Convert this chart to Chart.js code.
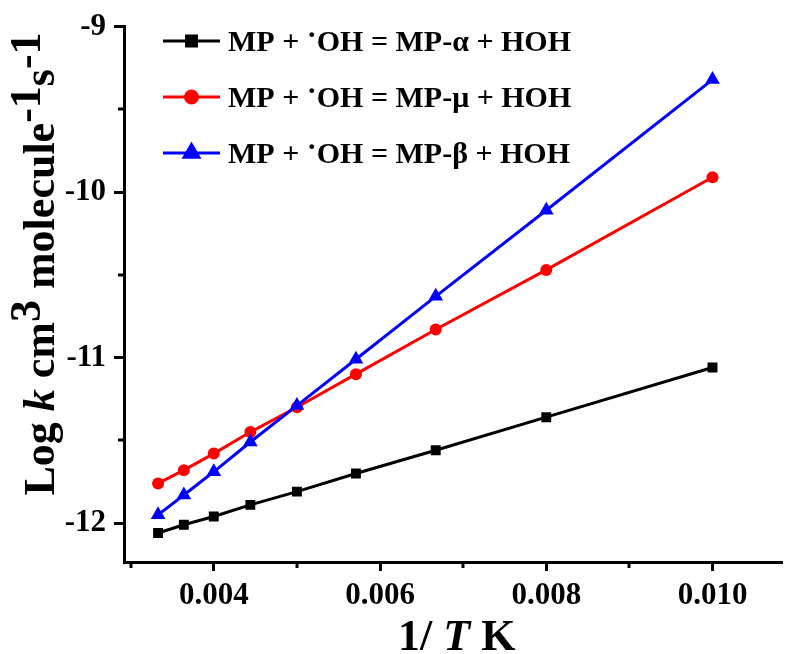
<!DOCTYPE html>
<html><head><meta charset="utf-8">
<script src="https://cdn.jsdelivr.net/npm/chart.js@4.4.1/dist/chart.umd.min.js"></script>
<style>html,body{margin:0;padding:0;background:#fff;}canvas{display:block;}</style>
</head><body>
<canvas id="c" width="790" height="654"></canvas>
<script>
// ---- data ----
const invT = [0.00333, 0.00364, 0.00400, 0.00444, 0.00500, 0.00571, 0.00667, 0.00800, 0.01000];
const logkAlpha = [-12.06, -12.01, -11.96, -11.89, -11.81, -11.70, -11.56, -11.36, -11.06];
const logkMu    = [-11.76, -11.68, -11.58, -11.45, -11.30, -11.10, -10.83, -10.47, -9.91];
const logkBeta  = [-11.95, -11.83, -11.69, -11.51, -11.29, -11.01, -10.63, -10.11, -9.32];
const seriesSites = ['α', 'μ', 'β'];
const xMajorTicks = [0.004, 0.006, 0.008, 0.010];
const xMinorTicks = [0.003, 0.005, 0.007, 0.009];
const yMajorTicks = [-12, -11, -10, -9];
const yMinorTicks = [-11.5, -10.5, -9.5];

const SERIF = '"Liberation Serif","Times New Roman",Times,serif';
const colors = ['#000000', '#ff0000', '#0000ff'];
const styles = ['rect', 'circle', 'triangle'];
const radii = [7, 6, 8.5];

function pts(ys) { return invT.map((x, i) => ({ x: x, y: ys[i] })); }

function drawRuns(ctx, x, y, parts) {
  for (const p of parts) {
    ctx.font = (p.i ? 'italic ' : '') + 'bold ' + p.s + 'px ' + SERIF;
    ctx.fillText(p.t, x, y - (p.dy || 0));
    x += ctx.measureText(p.t).width;
  }
  return x;
}
function runsWidth(ctx, parts) {
  let w = 0;
  for (const p of parts) {
    ctx.font = (p.i ? 'italic ' : '') + 'bold ' + p.s + 'px ' + SERIF;
    w += ctx.measureText(p.t).width;
  }
  return w;
}

const decor = {
  id: 'decor',
  afterDraw(chart) {
    const ctx = chart.ctx;
    const xs = chart.scales.x, ys = chart.scales.y;
    const ca = chart.chartArea;
    ctx.save();
    // minor ticks
    ctx.strokeStyle = '#000';
    ctx.lineWidth = 3;
    ctx.beginPath();
    for (const v of xMinorTicks) {
      const px = Math.round(xs.getPixelForValue(v));
      ctx.moveTo(px, ca.bottom); ctx.lineTo(px, ca.bottom + 6);
    }
    for (const v of yMinorTicks) {
      const py = Math.round(ys.getPixelForValue(v));
      ctx.moveTo(ca.left, py); ctx.lineTo(ca.left - 6, py);
    }
    ctx.stroke();

    // legend
    ctx.textBaseline = 'alphabetic';
    ctx.textAlign = 'left';
    chart.data.datasets.forEach((ds, k) => {
      const i = ds.legendIndex;
      const ly = 41 + i * 56;
      ctx.strokeStyle = ds.borderColor;
      ctx.lineWidth = 3;
      ctx.beginPath(); ctx.moveTo(163, ly); ctx.lineTo(220, ly); ctx.stroke();
      Chart.helpers.drawPoint(ctx, {
        pointStyle: ds.pointStyle, radius: ds.pointRadius, rotation: 0, borderWidth: 1
      }, 191.5, ly);
      ctx.fillStyle = ds.borderColor;
      ctx.fill();
      ctx.fillStyle = '#000';
      drawRuns(ctx, 228, ly + 10, [
        { t: 'MP + ', s: 30 },
        { t: '\u00B7', s: 30, dy: 7 },
        { t: 'OH = MP-' + seriesSites[i] + ' + HOH', s: 30 }
      ]);
    });

    // axis titles
    ctx.fillStyle = '#000';
    const xt = [
      { t: '1/ ', s: 44 }, { t: 'T', s: 44, i: true }, { t: ' K', s: 44 }
    ];
    const xw = runsWidth(ctx, xt);
    drawRuns(ctx, (ca.left + ca.right) / 2 - xw / 2 + 4, 650, xt);

    const yt = [
      { t: 'Log ', s: 44 }, { t: 'k', s: 44, i: true }, { t: ' cm', s: 44 },
      { t: '3', s: 44, dy: 14 }, { t: ' molecule', s: 44 }, { t: '-1', s: 44, dy: 14 },
      { t: 's', s: 44 }, { t: '-1', s: 44, dy: 14 }
    ];
    const yw = runsWidth(ctx, yt);
    ctx.translate(54, 264);
    ctx.rotate(-Math.PI / 2);
    drawRuns(ctx, -yw / 2, 0, yt);
    ctx.restore();
  }
};

const mkDs = (label, data, k) => ({
  label: label, data: pts(data), legendIndex: k,
  borderColor: colors[k], backgroundColor: colors[k],
  pointBackgroundColor: colors[k], pointBorderColor: colors[k],
  borderWidth: 3, pointStyle: styles[k], pointRadius: radii[k], pointBorderWidth: 0,
  pointHoverRadius: radii[k], showLine: true, tension: 0, order: 2 - k
});

new Chart(document.getElementById('c'), {
  type: 'scatter',
  data: {
    datasets: [
      mkDs('MP + ·OH = MP-α + HOH', logkAlpha, 0),
      mkDs('MP + ·OH = MP-μ + HOH', logkMu, 1),
      mkDs('MP + ·OH = MP-β + HOH', logkBeta, 2)
    ]
  },
  options: {
    responsive: false,
    animation: false,
    events: [],
    layout: { padding: { left: 0, right: 7, top: 25, bottom: 0 } },
    plugins: { legend: { display: false }, tooltip: { enabled: false } },
    scales: {
      x: {
        type: 'linear', position: 'bottom', min: 0.00292, max: 0.01083,
        afterBuildTicks: s => { s.ticks = xMajorTicks.map(v => ({ value: v })); },
        afterFit: s => { s.height = 92; },
        grid: { drawOnChartArea: false, drawTicks: true, tickLength: 9, tickWidth: 3, tickColor: '#000', color: '#000', lineWidth: 3 },
        border: { display: true, width: 3, color: '#000' },
        ticks: {
          autoSkip: false, maxRotation: 0, padding: 6, color: '#000',
          font: { family: SERIF, size: 31, weight: 'bold' },
          callback: v => Number(v).toFixed(3)
        }
      },
      y: {
        type: 'linear', position: 'left', min: -12.235, max: -9,
        afterBuildTicks: s => { s.ticks = yMajorTicks.map(v => ({ value: v })); },
        afterFit: s => { s.width = 124; },
        grid: { drawOnChartArea: false, drawTicks: true, tickLength: 10, tickWidth: 3, tickColor: '#000', color: '#000', lineWidth: 3 },
        border: { display: true, width: 3, color: '#000' },
        ticks: {
          padding: 8, color: '#000',
          font: { family: SERIF, size: 31, weight: 'bold' },
          callback: v => String(Math.round(v))
        }
      }
    }
  },
  plugins: [decor]
});
</script>
</body></html>
